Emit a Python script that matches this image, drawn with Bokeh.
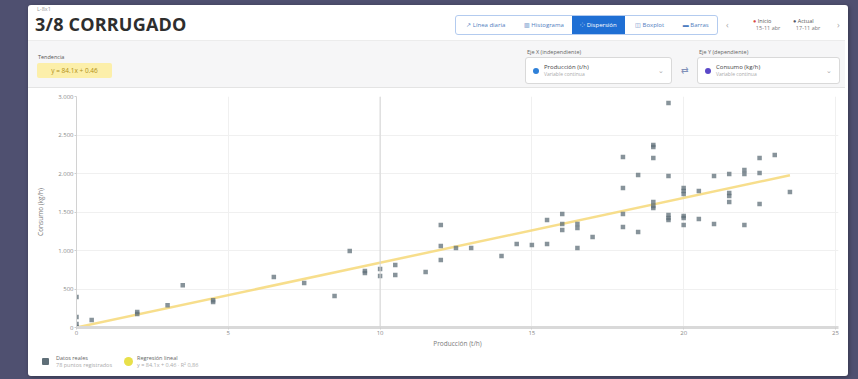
from bokeh.plotting import figure
from bokeh.models import Div, Spacer, FixedTicker, Span, ColumnDataSource
from bokeh.layouts import column, row
from bokeh.embed import file_html
from bokeh.resources import INLINE

# ---------------- data ----------------
breadcrumb = "L-8x1"
title_text = "3/8 CORRUGADO"
view_buttons = ["↗ Línea diaria", "▥ Histograma", "⁘ Dispersión", "◫ Boxplot", "▬ Barras"]
active_view = 2
period_labels = ["Inicio", "Actual"]
period_dates = ["15-11 abr", "17-11 abr"]
x_axis_label = "Producción (t/h)"
x_axis_sub = "Variable continua"
y_axis_label = "Consumo (kg/h)"
y_axis_sub = "Variable continua"

x_vals = [0, 0, 0, 0, 0.5, 2, 2, 3, 3.5, 4.5, 4.5, 6.5, 7.5, 8.5, 9, 9.5, 9.5, 10, 10,
          10.5, 10.5, 11.5, 12, 12, 12, 12.5, 13, 14, 14.5, 15, 15.5, 15.5, 16, 16, 16,
          16.5, 16.5, 16.5, 17, 18, 18, 18, 18, 18.5, 18.5, 19, 19, 19, 19, 19, 19,
          19.5, 19.5, 19.5, 19.5, 19.5, 20, 20, 20, 20, 20, 20, 20.5, 20.5, 21, 21,
          21.5, 21.5, 21.5, 21.5, 22, 22, 22, 22.5, 22.5, 22.5, 23, 23.5]
y_vals = [5, 45, 135, 395, 97, 200, 175, 290, 550, 355, 330, 655, 577, 410, 993, 733, 708,
          760, 669, 812, 682, 721, 1331, 1058, 877, 1032, 1032, 929, 1084, 1071, 1084, 1396,
          1474, 1344, 1266, 1344, 1292, 1032, 1175, 2214, 1812, 1474, 1305, 1981, 1240,
          2370, 2344, 2201, 1630, 1578, 1552, 2916, 1968, 1461, 1422, 1396, 1812, 1773,
          1734, 1448, 1422, 1331, 1773, 1409, 1968, 1344, 1994, 1747, 1708, 1630, 2045,
          1994, 1331, 2201, 2006, 1604, 2240, 1760]

trend_slope = 84.1
trend_intercept = 0.46
crosshair_x = 10

x_ticks = [0, 5, 10, 15, 20, 25]
x_tick_labels = ["0", "5", "10", "15", "20", "25"]
y_ticks = [0, 500, 1000, 1500, 2000, 2500, 3000]
y_tick_labels = ["0", "500", "1.000", "1.500", "2.000", "2.500", "3.000"]

trend_label = f"y = {trend_slope:.1f}x + {trend_intercept:.2f}"
legend_points = "Datos reales"
legend_points_sub = f"{len(x_vals)} puntos registrados"
legend_trend = "Regresión lineal"
legend_trend_sub = trend_label + " · R² 0,86"

FONT = "'Open Sans', sans-serif"
CARD_W = 820
HEADER_H = 83
PLOT_H = 262
LEGEND_H = 26
CARD_H = HEADER_H + PLOT_H + LEGEND_H

# ---------------- header ----------------
btn_widths = [60, 57, 53, 50, 43]
btn_html = ""
for i, (lbl, w) in enumerate(zip(view_buttons, btn_widths)):
    if i == active_view:
        st = "background:#1f6fd4;color:#fff;"
    else:
        st = "color:#4f7dc0;"
    btn_html += (f"<div style='width:{w}px;height:100%;display:flex;align-items:center;"
                 f"justify-content:center;font-size:6px;{st}'>{lbl}</div>")

period_html = ""
dot_cols = ["#d9463e", "#555566"]
for i, (lbl, d) in enumerate(zip(period_labels, period_dates)):
    left = 725 + i * 40
    period_html += (f"<div style='position:absolute;left:{left}px;top:13px;font-size:5.5px;line-height:7px;color:#555;'>"
                    f"<span style='color:{dot_cols[i]}'>●</span> {lbl}<br>"
                    f"<span style='color:#777'>&nbsp;&nbsp;{d}</span></div>")


def selector(left, label, dot, main, sub, w):
    return (f"<div style='position:absolute;left:{left+2}px;top:44px;font-size:5.5px;line-height:7px;color:#666;'>{label}</div>"
            f"<div style='position:absolute;left:{left}px;top:52px;width:{w}px;height:27px;background:#fff;"
            f"border:1px solid #d9d9d9;border-radius:3px;box-sizing:border-box;'>"
            f"<div style='position:absolute;left:7px;top:10px;width:6px;height:6px;border-radius:3px;background:{dot};'></div>"
            f"<div style='position:absolute;left:18px;top:6px;font-size:6px;line-height:7px;color:#444;'>{main}<br>"
            f"<span style='color:#aaa;font-size:5px'>{sub}</span></div>"
            f"<div style='position:absolute;right:7px;top:8px;font-size:7px;color:#aaa;'>⌄</div></div>")


header_html = f"""
<div style="position:relative;width:{CARD_W}px;height:{HEADER_H}px;font-family:{FONT};">
  <div style="position:absolute;left:9px;top:1px;font-size:5.5px;line-height:6px;color:#9a9a9a;">{breadcrumb}</div>
  <div style="position:absolute;left:7px;top:12px;font-size:18px;line-height:15px;font-weight:700;color:#2e2e2e;letter-spacing:0.2px;">{title_text}</div>
  <div style="position:absolute;left:427px;top:10px;width:263px;height:20px;border:1px solid #b3cbef;border-radius:3px;
       box-sizing:border-box;display:flex;overflow:hidden;background:#fff;">{btn_html}</div>
  <div style="position:absolute;left:698px;top:14px;font-size:9px;color:#aaa;">‹</div>
  {period_html}
  <div style="position:absolute;left:809px;top:14px;font-size:9px;color:#aaa;">›</div>
  <div style="position:absolute;left:0px;top:35px;width:{CARD_W-3}px;height:48px;background:#f6f6f7;
       border-top:1px solid #ececec;border-bottom:1px solid #e4e4e4;box-sizing:border-box;"></div>
  <div style="position:absolute;left:10px;top:49px;font-size:5.5px;line-height:7px;color:#555;">Tendencia</div>
  <div style="position:absolute;left:9px;top:58px;width:75px;height:15px;background:#fcefaa;border-radius:2px;
       font-size:6.5px;line-height:15px;text-align:center;color:#b28f18;">{trend_label}</div>
  {selector(497, "Eje X (independiente)", "#2f80d8", x_axis_label, x_axis_sub, 147)}
  <div style="position:absolute;left:653px;top:59px;font-size:9px;color:#8090b8;">⇄</div>
  {selector(669, "Eje Y (dependiente)", "#5a48c8", y_axis_label, y_axis_sub, 143)}
</div>
"""
header = Div(text=header_html, width=CARD_W, height=HEADER_H, margin=0)

# ---------------- plot ----------------
src = ColumnDataSource(data=dict(x=x_vals, y=y_vals))
trend_x = [min(x_vals), max(x_vals)]
trend_y = [trend_slope * v + trend_intercept for v in trend_x]

p = figure(width=CARD_W, height=PLOT_H, x_range=(0, 25.1), y_range=(0, 3000),
           output_backend="svg", toolbar_location=None,
           min_border_left=48, min_border_right=10, min_border_top=8, min_border_bottom=23,
           background_fill_color="white", border_fill_color="white", outline_line_color=None)

p.xaxis.ticker = FixedTicker(ticks=x_ticks)
p.yaxis.ticker = FixedTicker(ticks=y_ticks)
p.xaxis.major_label_overrides = {t: l for t, l in zip(x_ticks, x_tick_labels)}
p.yaxis.major_label_overrides = {t: l for t, l in zip(y_ticks, y_tick_labels)}
for ax in (p.xaxis, p.yaxis):
    ax.major_label_text_font = "Open Sans"
    ax.major_label_text_font_size = "6px"
    ax.major_label_text_color = "#8a8a8a"
    ax.major_label_standoff = 1
    ax.major_tick_out = 2
    ax.major_tick_in = 0
    ax.major_tick_line_color = "#cfcfcf"
    ax.minor_tick_line_color = None
    ax.axis_label_text_font = "Open Sans"
    ax.axis_label_text_font_size = "6.5px"
    ax.axis_label_text_font_style = "normal"
    ax.axis_label_text_color = "#7a7a7a"
    ax.axis_label_standoff = 1
p.xaxis.axis_line_color = "#d9d9d9"
p.xaxis.axis_line_width = 3
p.yaxis.axis_line_color = "#d2d2d2"
p.xaxis.axis_label = x_axis_label
p.yaxis.axis_label = y_axis_label
p.yaxis.axis_label_standoff = 10
p.xgrid.grid_line_color = "#f0f0f0"
p.ygrid.grid_line_color = "#f0f0f0"

p.add_layout(Span(location=crosshair_x, dimension="height", line_color="#d4d4d4", line_width=1))

p.line(x=trend_x, y=trend_y, line_color="#f6d878", line_width=2.5, line_alpha=0.85)
p.scatter(x="x", y="y", source=src, marker="square", size=4.5,
          fill_color="#5f6f78", fill_alpha=0.75, line_color=None)

# ---------------- legend ----------------
legend_html = f"""
<div style="position:relative;width:{CARD_W}px;height:{LEGEND_H}px;font-family:{FONT};">
  <div style="position:absolute;left:14px;top:8px;width:7px;height:7px;border-radius:1px;background:#5f6f78;"></div>
  <div style="position:absolute;left:28px;top:5px;font-size:5.5px;line-height:6.5px;color:#666;white-space:nowrap;">{legend_points}<br>
    <span style="color:#aaa">{legend_points_sub}</span></div>
  <div style="position:absolute;left:96px;top:7px;width:9px;height:9px;border-radius:5px;background:#e8e04a;"></div>
  <div style="position:absolute;left:109px;top:5px;font-size:5.5px;line-height:6.5px;color:#666;white-space:nowrap;">{legend_trend}<br>
    <span style="color:#aaa">{legend_trend_sub}</span></div>
</div>
"""
legend = Div(text=legend_html, width=CARD_W, height=LEGEND_H, margin=0)

card = column(header, p, legend, width=CARD_W, height=CARD_H, spacing=0,
              styles={"background-color": "white", "border-radius": "3px",
                      "box-shadow": "1px 1px 4px rgba(0,0,0,0.35)"})
inner = row(Spacer(width=28, height=CARD_H), card, width=28 + CARD_W, height=CARD_H)
root = column(Spacer(width=28 + CARD_W, height=5), inner, width=28 + CARD_W, height=5 + CARD_H)

html = file_html(root, INLINE, title="3/8 CORRUGADO")
html = html.replace("</head>", "<style>html,body{background:#4f5070;overflow:hidden;}</style></head>", 1)
open("out.html", "w").write(html)
